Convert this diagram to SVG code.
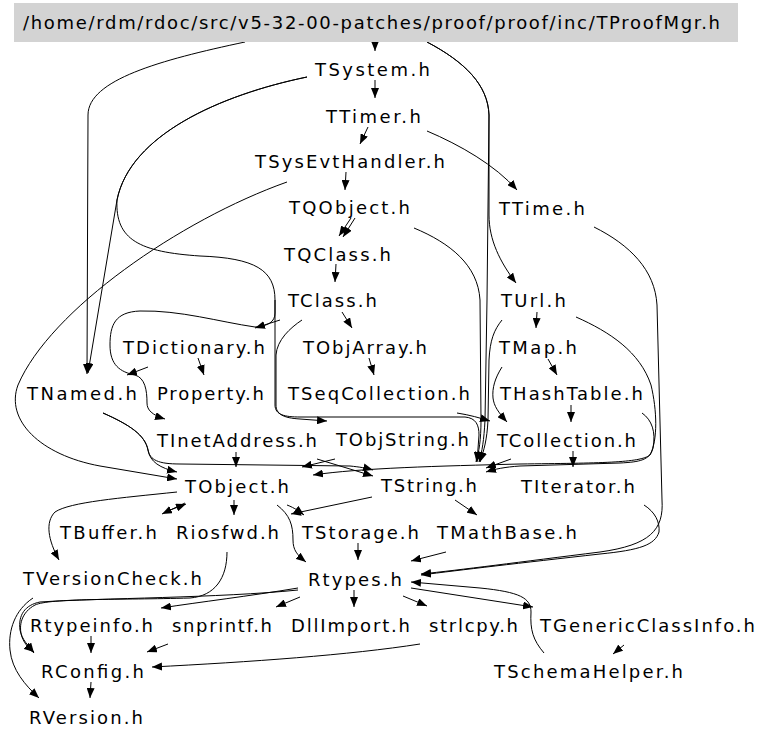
<svg xmlns="http://www.w3.org/2000/svg" width="768" height="742" viewBox="0 0 768 742">
<style>
text{font-family:"DejaVu Sans","Liberation Sans",sans-serif;font-size:18px;fill:#000}
.e path{fill:none;stroke:#000;stroke-width:1;marker-end:url(#ah)}
</style>
<defs>
<marker id="ah" markerWidth="10" markerHeight="8" refX="10" refY="4" orient="auto" markerUnits="userSpaceOnUse"><path d="M0,0 L10,4 L0,8 z" fill="#000"/></marker>
</defs>
<rect width="768" height="742" fill="#fff"/>
<g class="e" id="edges">
<path d="M375,42 L375,51"/>
<path d="M375,80 L375,98"/>
<path d="M368,127 L360,144"/>
<path d="M346,172 L345,190"/>
<path d="M355,218 L343,237"/>
<path d="M351,218 L339,236"/>
<path d="M336,264 L335,282"/>
<path d="M342,312 L352,328"/>
<path d="M369,358 L374,375"/>
<path d="M280,320 L255,328"/>
<path d="M148,367 L127,375"/>
<path d="M198,358 L204,375"/>
<path d="M245,42 C160,60 88,80 88,115 L87,374"/>
<path d="M307,77 C220,95 130,135 117,200 L88,373"/>
<path d="M287,182 C180,220 50,310 18,385 C5,420 40,455 100,466 L177,479"/>
<path d="M307,77 C220,95 130,135 117,200 C115,240 140,252 200,256 C255,258 275,270 275,300 L275,405 C275,415 285,417 300,417 L465,417 C476,418 479,425 479,435 L477,462"/>
<path d="M275,300 L275,313 C275,322 268,326 255,327 C220,322 180,310 140,311 C115,312 110,325 110,345 C110,365 120,372 135,375 C145,378 147,390 147,403 C147,410 152,415 165,419"/>
<path d="M302,320 C290,328 277,340 276,355 L276,405 C276,414 283,418 300,419 L327,421"/>
<path d="M457,413 C470,415 480,418 490,421"/>
<path d="M502,367 C495,378 492,388 493,398 C494,406 498,412 507,422"/>
<path d="M537,312 L536,328"/>
<path d="M548,359 L557,375"/>
<path d="M571,405 L571,422"/>
<path d="M573,451 L573,467"/>
<path d="M642,413 C652,420 656,432 653,448 C650,460 640,462 620,463 L520,466 C505,467 495,469 486,472"/>
<path d="M511,459 L486,468"/>
<path d="M502,320 C494,330 490,340 489,360 L488,420 C487,440 484,450 480,462"/>
<path d="M427,131 C460,145 495,165 517,190"/>
<path d="M427,42 C465,62 488,85 489,115 L489,215 C489,240 500,262 516,283"/>
<path d="M427,42 C465,62 488,85 489,115 L487,300 L485,420 C484,440 482,452 479,462"/>
<path d="M414,228 C450,243 478,265 480,300 L481,420 C481,440 479,452 476,462"/>
<path d="M576,317 C610,332 640,352 651,385 C657,410 658,440 650,455 C640,463 600,463 520,464 C440,466 360,468 313,475"/>
<path d="M594,227 C630,245 655,270 657,305 L662,500 C664,530 650,545 600,552 C520,562 460,570 421,574"/>
<path d="M644,505 C655,512 660,522 659,532 C655,545 640,550 600,554 C520,563 460,570 421,575"/>
<path d="M446,552 L411,561"/>
<path d="M544,653 C533,640 530,630 531,612 C531,598 520,592 480,588 L411,582"/>
<path d="M411,588 L533,607"/>
<path d="M403,596 L427,606"/>
<path d="M354,590 L354,607"/>
<path d="M300,597 L276,607"/>
<path d="M298,588 C250,596 200,602 161,608"/>
<path d="M298,590 C220,598 100,598 40,602 C25,605 18,615 20,630 C22,640 28,645 34,653"/>
<path d="M227,552 C227,578 215,596 190,598 C120,600 50,598 35,605 C22,612 18,625 22,637 C25,645 29,648 34,652"/>
<path d="M33,598 C15,610 8,630 10,650 C12,670 25,685 39,698"/>
<path d="M91,636 L91,653"/>
<path d="M168,644 L147,652"/>
<path d="M420,644 C350,655 250,662 152,667"/>
<path d="M91,682 L90,698"/>
<path d="M624,645 L613,654"/>
<path d="M277,505 C290,515 293,525 293,540 C293,550 297,555 306,562"/>
<path d="M358,543 L358,560"/>
<path d="M234,500 L234,515"/>
<path d="M185,503 L162,514"/>
<path d="M165,512 L186,504"/>
<path d="M287,505 C295,508 300,512 304,515"/>
<path d="M372,497 L291,514"/>
<path d="M177,492 C120,498 70,502 55,512 C45,522 48,540 59,560"/>
<path d="M455,500 L477,515"/>
<path d="M103,413 C130,425 145,435 148,450 C150,462 160,468 177,472"/>
<path d="M103,413 C130,425 145,435 148,450 C150,460 158,464 180,464 L350,466 C360,467 366,468 373,470"/>
<path d="M317,459 L373,476"/>
<path d="M335,459 L302,467"/>
<path d="M236,452 L236,467"/>
</g>
<g id="TProofMgr"><rect x="14" y="3" width="724" height="39" fill="#d3d3d3"/><text x="23" y="29" textLength="697" lengthAdjust="spacing">/home/rdm/rdoc/src/v5-32-00-patches/proof/proof/inc/TProofMgr.h</text></g>
<g id="TSystem"><text x="315" y="76" textLength="115" lengthAdjust="spacing">TSystem.h</text></g>
<g id="TTimer"><text x="326" y="122.5" textLength="95" lengthAdjust="spacing">TTimer.h</text></g>
<g id="TSysEvtHandler"><text x="255" y="168" textLength="190" lengthAdjust="spacing">TSysEvtHandler.h</text></g>
<g id="TQObject"><text x="289" y="214" textLength="121" lengthAdjust="spacing">TQObject.h</text></g>
<g id="TQClass"><text x="284" y="260.5" textLength="107" lengthAdjust="spacing">TQClass.h</text></g>
<g id="TClass"><text x="288" y="307" textLength="89" lengthAdjust="spacing">TClass.h</text></g>
<g id="TObjArray"><text x="303" y="353.5" textLength="124" lengthAdjust="spacing">TObjArray.h</text></g>
<g id="TSeqCollection"><text x="288" y="399.5" textLength="182" lengthAdjust="spacing">TSeqCollection.h</text></g>
<g id="TObjString"><text x="336" y="446" textLength="133" lengthAdjust="spacing">TObjString.h</text></g>
<g id="TString"><text x="381" y="492" textLength="96" lengthAdjust="spacing">TString.h</text></g>
<g id="TObject"><text x="185" y="492.5" textLength="104" lengthAdjust="spacing">TObject.h</text></g>
<g id="TInetAddress"><text x="157" y="446.5" textLength="160" lengthAdjust="spacing">TInetAddress.h</text></g>
<g id="TNamed"><text x="27" y="400" textLength="110" lengthAdjust="spacing">TNamed.h</text></g>
<g id="Property"><text x="157" y="400" textLength="107" lengthAdjust="spacing">Property.h</text></g>
<g id="TDictionary"><text x="123" y="353.5" textLength="142" lengthAdjust="spacing">TDictionary.h</text></g>
<g id="TTime"><text x="499" y="215" textLength="86" lengthAdjust="spacing">TTime.h</text></g>
<g id="TUrl"><text x="501" y="307" textLength="65" lengthAdjust="spacing">TUrl.h</text></g>
<g id="TMap"><text x="499" y="353.5" textLength="78" lengthAdjust="spacing">TMap.h</text></g>
<g id="THashTable"><text x="500" y="399.5" textLength="143" lengthAdjust="spacing">THashTable.h</text></g>
<g id="TCollection"><text x="497" y="446.5" textLength="139" lengthAdjust="spacing">TCollection.h</text></g>
<g id="TIterator"><text x="521" y="492.5" textLength="114" lengthAdjust="spacing">TIterator.h</text></g>
<g id="TMathBase"><text x="437" y="538.5" textLength="140" lengthAdjust="spacing">TMathBase.h</text></g>
<g id="TStorage"><text x="302" y="538.5" textLength="117" lengthAdjust="spacing">TStorage.h</text></g>
<g id="Riosfwd"><text x="176" y="538.5" textLength="103" lengthAdjust="spacing">Riosfwd.h</text></g>
<g id="TBuffer"><text x="60" y="538.5" textLength="97" lengthAdjust="spacing">TBuffer.h</text></g>
<g id="TVersionCheck"><text x="23" y="585" textLength="179" lengthAdjust="spacing">TVersionCheck.h</text></g>
<g id="Rtypes"><text x="308" y="585.5" textLength="94" lengthAdjust="spacing">Rtypes.h</text></g>
<g id="Rtypeinfo"><text x="30" y="631.5" textLength="123" lengthAdjust="spacing">Rtypeinfo.h</text></g>
<g id="snprintf"><text x="172" y="631.5" textLength="100" lengthAdjust="spacing">snprintf.h</text></g>
<g id="DllImport"><text x="291" y="631.5" textLength="119" lengthAdjust="spacing">DllImport.h</text></g>
<g id="strlcpy"><text x="429" y="631.5" textLength="89" lengthAdjust="spacing">strlcpy.h</text></g>
<g id="TGenericClassInfo"><text x="540" y="631.5" textLength="215" lengthAdjust="spacing">TGenericClassInfo.h</text></g>
<g id="TSchemaHelper"><text x="494" y="677.5" textLength="189" lengthAdjust="spacing">TSchemaHelper.h</text></g>
<g id="RConfig"><text x="41" y="677.5" textLength="103" lengthAdjust="spacing">RConfig.h</text></g>
<g id="RVersion"><text x="29" y="724" textLength="114" lengthAdjust="spacing">RVersion.h</text></g>
</svg>
